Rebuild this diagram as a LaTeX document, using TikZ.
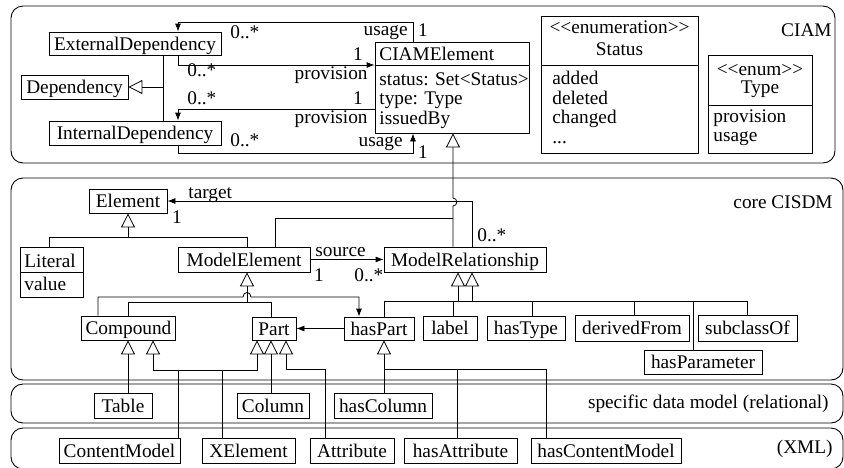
\documentclass[tikz,border=0pt]{standalone}
\usepackage{fontspec}
\setmainfont{Liberation Serif}
\usetikzlibrary{arrows.meta}
\newcommand{\dblLT}{<\kern0pt<}
\newcommand{\dblGT}{>\kern0pt>}
\begin{document}
\begin{tikzpicture}[x=1pt,y=-1pt,line width=0.8pt,
  every node/.style={font=\fontsize{19.3}{22}\selectfont,inner sep=0pt,text height=13pt,text depth=0pt},
  cls/.style={draw,fill=white,minimum height=24pt,inner xsep=4pt},
  mbox/.style={draw,fill=white},
  frame/.style={draw,rounded corners=12pt,line width=0.9pt},
  assoc/.style={-{Latex[length=8pt,width=6pt]}},
  gen/.style={-{Triangle[open,length=14pt,width=14pt]}},
  lbl/.style={anchor=base west},
  lble/.style={anchor=base east},
  lblc/.style={anchor=base}]
\useasboundingbox (0,0) rectangle (844,467);

% ---------- containers ----------
\draw[frame] (11,6) rectangle (835,163);
\draw[frame] (11,178) rectangle (843,380);
\draw[frame] (11,384) rectangle (843,423);
\draw[frame] (11,428) rectangle (843,469);
\node[lble] (tciam) at (832,36.7) {CIAM};
\node[lble] (tcore) at (833,208.3) {core CISDM};
\node[lble] (trel) at (829,408.3) {specific data model (relational)};
\node[lble] (txml) at (833,453) {(XML)};

% ---------- CIAM ----------
\node[cls,minimum width=172pt,minimum height=23pt] (ext) at (135,43.5) {ExternalDependency};
\node[cls,minimum width=107pt] (dep) at (74.5,87) {Dependency};
\node[cls,minimum width=172pt] (int) at (135,133) {InternalDependency};

\node[mbox,minimum width=154pt,minimum height=91pt] (ce) at (452,87.5) {};
\draw (ce.west |- 0,65) -- (ce.east |- 0,65);
\node[lbl] (cet) at (379,60) {CIAMElement};
\node[lbl] (cea) at (379,85) {status: Set<Status>};
\node[lbl] (ceb) at (379,104.5) {type: Type};
\node[lbl] (cec) at (379,124) {issuedBy};

\node[mbox,minimum width=157pt,minimum height=137pt] (status) at (619.5,84.5) {};
\draw (status.west |- 0,65) -- (status.east |- 0,65);
\node[lblc] (st1) at (619.5,33) {\dblLT enumeration\dblGT};
\node[lblc] (st2) at (619.5,55) {Status};
\node[lbl] (st3) at (552,84) {added};
\node[lbl] (st4) at (552,104) {deleted};
\node[lbl] (st5) at (552,123) {changed};
\node[lbl] (st6) at (552,143) {...};

\node[mbox,minimum width=104pt,minimum height=98pt] (type) at (760,104) {};
\draw (type.west |- 0,105) -- (type.east |- 0,105);
\node[lblc] (ty1) at (760,75) {\dblLT enum\dblGT};
\node[lblc] (ty2) at (760,93.5) {Type};
\node[lbl] (ty3) at (713,122) {provision};
\node[lbl] (ty4) at (713,141.5) {usage};

% generalization Dependency
\draw (ext.south -| 163,0) -- (int.north -| 163,0);
\draw[gen] (163,87) -- (dep.east);

% associations CIAM
\draw[assoc] (ce.north -| 413,0) |- (178,22.7) -- (ext.north -| 178,0);
\draw[assoc] (ext.south -| 178,0) |- (ce.west |- 0,65);
\draw[assoc] (ce.west |- 0,109) -| (int.north -| 178,0);
\draw[assoc] (int.south -| 178,0) |- (413,153) -- (ce.south -| 413,0);

\node[lbl] (m1) at (230,38.3) {0..*};
\node[lble] (m2) at (408,35) {usage};
\node[lblc] (m3) at (423,36) {1};
\node[lblc] (m4) at (358,60) {1};
\node[lble] (m5) at (368,79.3) {provision};
\node[lbl] (m6) at (187,76.7) {0..*};
\node[lbl] (m7) at (187,104) {0..*};
\node[lblc] (m8) at (358,104) {1};
\node[lble] (m9) at (368,123.3) {provision};
\node[lbl] (m10) at (230,146.7) {0..*};
\node[lble] (m11) at (403,146.7) {usage};
\node[lblc] (m12) at (423,158) {1};

% ---------- core CISDM ----------
\node[cls,minimum width=78pt] (el) at (128,201) {Element};
\node[mbox,minimum width=63pt,minimum height=50pt] (lit) at (51.5,272) {};
\draw (lit.west |- 0,272) -- (lit.east |- 0,272);
\node[lbl] (lit1) at (24,267.3) {Literal};
\node[lbl] (lit2) at (24,290) {value};
\node[cls,minimum width=132pt,minimum height=25pt] (modelel) at (244,259.5) {ModelElement};
\node[cls,minimum width=162pt,minimum height=25pt] (modelrel) at (465,259.5) {ModelRelationship};
\node[cls,minimum width=91pt] (compound) at (128.5,328) {Compound};
\node[cls,minimum width=44pt,minimum height=23pt] (part) at (274,328.5) {Part};
\node[cls,minimum width=70pt,minimum height=23pt] (haspart) at (379,328.5) {hasPart};
\node[cls,minimum width=54pt] (label) at (450,328) {label};
\node[cls,minimum width=78pt] (hastype) at (526,328) {hasType};
\node[cls,minimum width=114pt,minimum height=26pt] (derivedfrom) at (632,328) {derivedFrom};
\node[cls,minimum width=99pt,minimum height=26pt] (subclassof) at (747.5,328) {subclassOf};
\node[cls,minimum width=118pt] (hasparam) at (703,362) {hasParameter};

% generalization to CIAMElement (with hop)
\draw[gen] (modelrel.north -| 453,0) -- (453,206) .. controls (458,206) and (458,198) .. (453,198) -- (ce.south -| 453,0);
\draw (modelel.north -| 275,0) |- (453,218);

% target / source associations
\draw[assoc] (modelrel.north -| 472,0) |- (el.east);
\draw[assoc] (modelel.east) -- (modelrel.west);
\node[lbl] (tg) at (188,198.3) {target};
\node[lblc] (tg1) at (177,223.3) {1};
\node[lbl] (tg2) at (477,241.7) {0..*};
\node[lbl] (sc) at (315,256.7) {source};
\node[lblc] (sc1) at (319,281.7) {1};
\node[lbl] (sc2) at (354,281.7) {0..*};

% Element generalization
\draw[gen] (128,237) -- (el.south);
\draw (lit.north -| 49,0) |- (247,237) -- (modelel.north -| 247,0);

% ModelElement generalization
\draw[gen] (247,302) -- (modelel.south -| 247,0);
\draw (compound.north -| 128,0) |- (271,302) -- (part.north -| 271,0);

% Compound -> hasPart association (with hop)
\draw[assoc] (compound.north -| 98,0) |- (243,297) .. controls (243,291) and (251,291) .. (251,297) -| (haspart.north -| 359,0);

% hasPart -> Part
\draw[assoc] (haspart.west) -- (part.east);

% ModelRelationship generalization
\draw[gen] (458,301) -- (modelrel.south -| 458,0);
\draw[gen] (472,301) -- (modelrel.south -| 472,0);
\draw (haspart.north -| 384,0) |- (747,301) -- (subclassof.north -| 747,0);
\draw (label.north -| 453,0) -- (453,301);
\draw (hastype.north -| 532,0) -- (532,301);
\draw (derivedfrom.north -| 634,0) -- (634,301);
\draw (hasparam.north -| 693,0) -- (693,301);

% ---------- relational ----------
\node[cls,minimum width=58pt,minimum height=25pt] (table) at (123,405.5) {Table};
\node[cls,minimum width=72pt,minimum height=25pt] (column) at (273,405.5) {Column};
\node[cls,minimum width=98pt,minimum height=25pt] (hascolumn) at (383,405.5) {hasColumn};

% ---------- XML ----------
\node[cls,minimum width=121pt,minimum height=25pt] (contentmodel) at (119.5,450.5) {ContentModel};
\node[cls,minimum width=93pt,minimum height=25pt] (xelement) at (248.5,450.5) {XElement};
\node[cls,minimum width=84pt,minimum height=25pt] (attribute) at (352,450.5) {Attribute};
\node[cls,minimum width=113pt,minimum height=25pt] (hasattribute) at (460.5,450.5) {hasAttribute};
\node[cls,minimum width=150pt,minimum height=25pt] (hascontentmodel) at (606,450.5) {hasContentModel};

% Compound subclasses
\draw[gen] (table.north -| 128,0) -- (compound.south -| 128,0);
\draw[gen] (153,370) -- (compound.south -| 153,0);
\draw[gen] (153,370) -| (part.south -| 257,0);
\draw (178,370) -- (contentmodel.north -| 178,0);
\draw (222,370) -- (xelement.north -| 222,0);

% Part subclasses
\draw[gen] (column.north -| 271,0) -- (part.south -| 271,0);
\draw[gen] (attribute.north -| 325,0) |- (286,369) -- (part.south -| 286,0);

% hasPart subclasses
\draw[gen] (hascolumn.north -| 384,0) -- (haspart.south -| 384,0);
\draw (384,369) -| (hascontentmodel.north -| 546,0);
\draw (457,369) -- (hasattribute.north -| 457,0);
\end{tikzpicture}
\end{document}
